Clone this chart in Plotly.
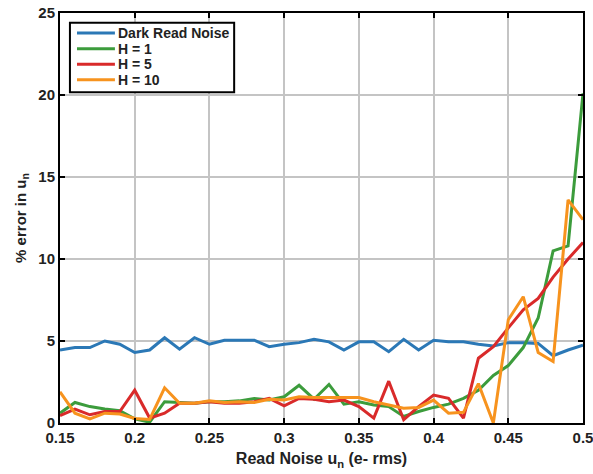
import plotly.graph_objects as go

# Read noise values (e- rms) at which the error was evaluated
read_noise = [round(0.15 + 0.01 * i, 2) for i in range(36)]

# Percent error in u_n for each estimate
dark_read_noise = [4.45, 4.6, 4.6, 5.0, 4.8, 4.3, 4.45, 5.2, 4.5,
                   5.2, 4.8, 5.05, 5.05, 5.05, 4.65, 4.8, 4.9, 5.1,
                   4.95, 4.45, 4.95, 4.95, 4.35, 5.1, 4.45, 5.05, 4.95,
                   4.95, 4.8, 4.7, 4.9, 4.9, 4.85, 4.1, 4.45, 4.75]
h1 = [0.6, 1.25, 1.0, 0.85, 0.75, 0.25, 0.05, 1.3, 1.25,
      1.2, 1.3, 1.3, 1.35, 1.5, 1.4, 1.6, 2.3, 1.45,
      2.35, 1.15, 1.3, 1.1, 1.0, 0.4, 0.7, 0.95, 1.15,
      1.5, 2.0, 2.9, 3.5, 4.6, 6.4, 10.5, 10.8, 20.1]
h5 = [0.45, 0.85, 0.5, 0.7, 0.7, 2.0, 0.3, 0.6, 1.2,
      1.2, 1.3, 1.2, 1.2, 1.3, 1.5, 1.05, 1.5, 1.45,
      1.3, 1.4, 1.0, 0.3, 2.55, 0.2, 1.0, 1.7, 1.5,
      0.3, 3.95, 4.65, 5.8, 6.9, 7.6, 8.9, 10.0, 11.0]
h10 = [1.9, 0.6, 0.25, 0.6, 0.55, 0.28, 0.22, 2.15, 1.2,
       1.2, 1.35, 1.25, 1.3, 1.25, 1.45, 1.4, 1.6, 1.55,
       1.55, 1.55, 1.55, 1.3, 1.1, 0.9, 0.95, 1.4, 0.6,
       0.65, 2.4, 0.0, 6.3, 7.7, 4.3, 3.75, 13.6, 12.4]

series_names = ["Dark Read Noise", "H = 1", "H = 5", "H = 10"]
series_values = [dark_read_noise, h1, h5, h10]
series_colors = ["#2b78b6", "#3c9c3c", "#d92a2a", "#f7931e"]

x_ticks = [0.15, 0.2, 0.25, 0.3, 0.35, 0.4, 0.45, 0.5]
x_tick_labels = ["0.15", "0.2", "0.25", "0.3", "0.35", "0.4", "0.45", "0.5"]
y_ticks = [0, 5, 10, 15, 20, 25]

fig = go.Figure()
for name, vals, color in zip(series_names, series_values, series_colors):
    fig.add_trace(go.Scatter(
        x=read_noise, y=vals, mode="lines", name=name,
        line=dict(color=color, width=3), showlegend=False,
    ))

# Compact boxed legend in the upper-left corner of the axes (paper coords)
box_x0, box_x1, box_y0, box_y1 = 0.019, 0.333, 0.807, 0.976
sample_x0, sample_x1, label_x = 0.0325, 0.105, 0.108
row_y = [0.951, 0.913, 0.875, 0.837]

shapes = [dict(type="rect", xref="paper", yref="paper",
               x0=box_x0, x1=box_x1, y0=box_y0, y1=box_y1,
               line=dict(color="black", width=2), fillcolor="white", layer="above")]
annotations = []
for name, color, ry in zip(series_names, series_colors, row_y):
    shapes.append(dict(type="line", xref="paper", yref="paper",
                       x0=sample_x0, x1=sample_x1, y0=ry, y1=ry,
                       line=dict(color=color, width=3), layer="above"))
    annotations.append(dict(xref="paper", yref="paper", x=label_x, y=ry,
                            xanchor="left", yanchor="middle", showarrow=False,
                            text=name, font=dict(size=14, color="#222", weight="bold")))

axis_common = dict(
    automargin=False,
    showline=True, linecolor="black", linewidth=2, mirror="ticks",
    ticks="inside", ticklen=5, tickwidth=2, tickcolor="black",
    showgrid=True, gridcolor="#c4c4c4", gridwidth=1.5,
    zeroline=False, ticklabeloverflow="allow",
    tickfont=dict(size=15, color="#222", weight="bold"),
)

fig.update_layout(
    width=593, height=474,
    margin=dict(l=60, r=10, t=13, b=51),
    paper_bgcolor="white", plot_bgcolor="white",
    font=dict(family="Liberation Sans, Arial, sans-serif", color="#222", weight="bold"),
    showlegend=False,
    shapes=shapes,
    annotations=annotations,
    xaxis=dict(
        range=[0.15, 0.5], tickvals=x_ticks, ticktext=x_tick_labels,
        title=dict(text="Read Noise u<sub>n</sub> (e- rms)",
                   font=dict(size=16, weight="bold"), standoff=8),
        **axis_common,
    ),
    yaxis=dict(
        range=[0, 25], tickvals=y_ticks,
        title=dict(text="% error in u<sub>n</sub>",
                   font=dict(size=15, weight="bold"), standoff=8),
        **axis_common,
    ),
)

fig.write_html("out.html")
